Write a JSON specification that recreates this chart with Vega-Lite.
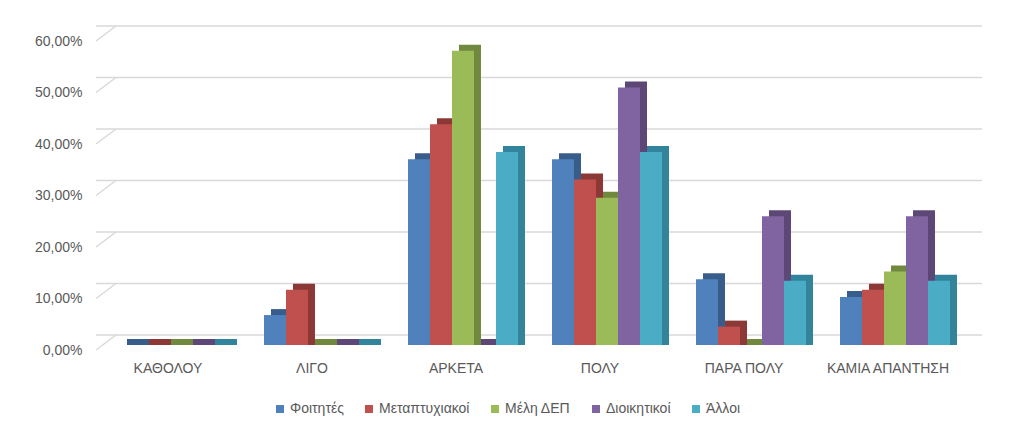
{
  "$schema": "https://vega.github.io/schema/vega-lite/v6.json",
  "width": 864,
  "height": 309,
  "autosize": {"type": "none"},
  "padding": {"left": 96, "top": 36, "right": 64, "bottom": 92},
  "background": "white",
  "config": {
    "view": {"stroke": null},
    "font": "Liberation Sans",
    "axis": {"labelColor": "#595959", "labelFont": "Liberation Sans", "labelFontSize": 14},
    "legend": {"labelColor": "#595959", "labelFont": "Liberation Sans", "labelFontSize": 14}
  },
  "datasets": {
    "bars": [
      {"cat": "ΚΑΘΟΛΟΥ", "series": "Φοιτητές", "value": 0},
      {"cat": "ΚΑΘΟΛΟΥ", "series": "Μεταπτυχιακοί", "value": 0},
      {"cat": "ΚΑΘΟΛΟΥ", "series": "Μέλη ΔΕΠ", "value": 0},
      {"cat": "ΚΑΘΟΛΟΥ", "series": "Διοικητικοί", "value": 0},
      {"cat": "ΚΑΘΟΛΟΥ", "series": "Άλλοι", "value": 0},
      {"cat": "ΛΙΓΟ", "series": "Φοιτητές", "value": 0.0581},
      {"cat": "ΛΙΓΟ", "series": "Μεταπτυχιακοί", "value": 0.1071},
      {"cat": "ΛΙΓΟ", "series": "Μέλη ΔΕΠ", "value": 0},
      {"cat": "ΛΙΓΟ", "series": "Διοικητικοί", "value": 0},
      {"cat": "ΛΙΓΟ", "series": "Άλλοι", "value": 0},
      {"cat": "ΑΡΚΕΤΑ", "series": "Φοιτητές", "value": 0.3605},
      {"cat": "ΑΡΚΕΤΑ", "series": "Μεταπτυχιακοί", "value": 0.4286},
      {"cat": "ΑΡΚΕΤΑ", "series": "Μέλη ΔΕΠ", "value": 0.5714},
      {"cat": "ΑΡΚΕΤΑ", "series": "Διοικητικοί", "value": 0},
      {"cat": "ΑΡΚΕΤΑ", "series": "Άλλοι", "value": 0.375},
      {"cat": "ΠΟΛΥ", "series": "Φοιτητές", "value": 0.3605},
      {"cat": "ΠΟΛΥ", "series": "Μεταπτυχιακοί", "value": 0.3214},
      {"cat": "ΠΟΛΥ", "series": "Μέλη ΔΕΠ", "value": 0.2857},
      {"cat": "ΠΟΛΥ", "series": "Διοικητικοί", "value": 0.5},
      {"cat": "ΠΟΛΥ", "series": "Άλλοι", "value": 0.375},
      {"cat": "ΠΑΡΑ ΠΟΛΥ", "series": "Φοιτητές", "value": 0.1279},
      {"cat": "ΠΑΡΑ ΠΟΛΥ", "series": "Μεταπτυχιακοί", "value": 0.0357},
      {"cat": "ΠΑΡΑ ΠΟΛΥ", "series": "Μέλη ΔΕΠ", "value": 0},
      {"cat": "ΠΑΡΑ ΠΟΛΥ", "series": "Διοικητικοί", "value": 0.25},
      {"cat": "ΠΑΡΑ ΠΟΛΥ", "series": "Άλλοι", "value": 0.125},
      {"cat": "ΚΑΜΙΑ ΑΠΑΝΤΗΣΗ", "series": "Φοιτητές", "value": 0.093},
      {"cat": "ΚΑΜΙΑ ΑΠΑΝΤΗΣΗ", "series": "Μεταπτυχιακοί", "value": 0.1071},
      {"cat": "ΚΑΜΙΑ ΑΠΑΝΤΗΣΗ", "series": "Μέλη ΔΕΠ", "value": 0.1429},
      {"cat": "ΚΑΜΙΑ ΑΠΑΝΤΗΣΗ", "series": "Διοικητικοί", "value": 0.25},
      {"cat": "ΚΑΜΙΑ ΑΠΑΝΤΗΣΗ", "series": "Άλλοι", "value": 0.125}
    ],
    "grid": [
      {"v": 0}, {"v": 0.1}, {"v": 0.2}, {"v": 0.3}, {"v": 0.4}, {"v": 0.5}, {"v": 0.6}
    ]
  },
  "resolve": {"scale": {"color": "independent", "xOffset": "independent"}},
  "layer": [
    {
      "data": {"name": "grid"},
      "mark": {"type": "rule", "color": "#D9D9D9", "strokeWidth": 1.5, "xOffset": 22, "x2Offset": 20, "yOffset": -10, "y2Offset": -10},
      "encoding": {
        "y": {"field": "v", "type": "quantitative", "scale": {"domain": [0, 0.6]},
              "axis": {"values": [0, 0.1, 0.2, 0.3, 0.4, 0.5, 0.6], "title": null, "grid": false, "ticks": false, "domain": false,
                       "labelPadding": 14, "labelOffset": 5,
                       "labelExpr": "replace(format(datum.value, '.2%'), '.', ',')"}}
      }
    },
    {
      "data": {"name": "bars"},
      "mark": {"type": "bar", "yOffset": -6, "y2Offset": 0},
      "encoding": {
        "x": {"field": "cat", "type": "nominal", "sort": null,
              "scale": {"paddingInner": 0.0417, "paddingOuter": 0.0208},
              "axis": {"title": null, "labelAngle": 0, "ticks": false, "domain": false, "labelPadding": 16, "bandPosition": 0.5}},
        "xOffset": {"field": "series", "sort": null, "scale": {"paddingInner": 0, "paddingOuter": 0.636, "align": 1}},
        "y": {"field": "value", "type": "quantitative"},
        "y2": {"datum": 0},
        "color": {"field": "series", "type": "nominal", "sort": null, "legend": null,
                  "scale": {"domain": ["Φοιτητές", "Μεταπτυχιακοί", "Μέλη ΔΕΠ", "Διοικητικοί", "Άλλοι"],
                            "range": ["#385D8A", "#8C3836", "#71893F", "#5C4776", "#31849B"]}}
      }
    },
    {
      "data": {"name": "bars"},
      "mark": {"type": "bar"},
      "encoding": {
        "x": {"field": "cat", "type": "nominal", "sort": null},
        "xOffset": {"field": "series", "sort": null, "scale": {"paddingInner": 0, "paddingOuter": 0.636, "align": 0.75}},
        "y": {"field": "value", "type": "quantitative"},
        "color": {"field": "series", "type": "nominal", "sort": null,
                  "scale": {"domain": ["Φοιτητές", "Μεταπτυχιακοί", "Μέλη ΔΕΠ", "Διοικητικοί", "Άλλοι"],
                            "range": ["#4F81BD", "#C0504D", "#9BBB59", "#8064A2", "#4BACC6"]},
                  "legend": {"title": null, "orient": "none", "direction": "horizontal", "legendX": 177, "legendY": 366,
                             "symbolType": "square", "symbolSize": 64, "symbolStrokeWidth": 0, "labelOffset": 3, "columnPadding": 18}}
      }
    },
    {
      "data": {"name": "grid"},
      "mark": {"type": "rule", "color": "#D9D9D9", "strokeWidth": 1.5, "xOffset": -72, "x2Offset": -52, "yOffset": 5, "y2Offset": -10},
      "encoding": {
        "x": {"datum": "ΚΑΘΟΛΟΥ"},
        "x2": {"datum": "ΚΑΘΟΛΟΥ"},
        "y": {"field": "v", "type": "quantitative"},
        "y2": {"field": "v"}
      }
    }
  ]
}
